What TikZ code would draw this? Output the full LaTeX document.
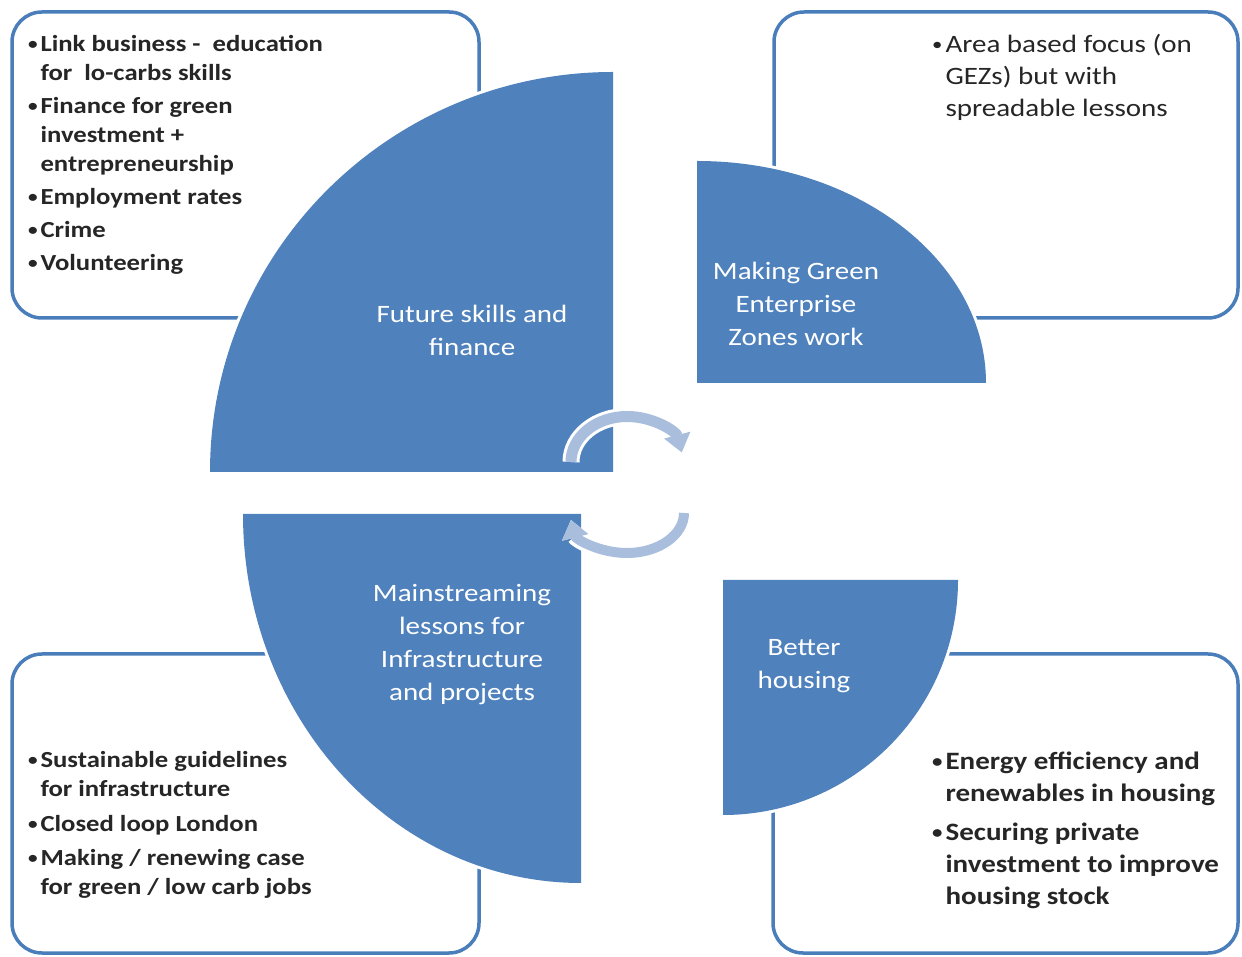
\documentclass[tikz,border=0pt]{standalone}
\usepackage{fontspec}
\setmainfont{Carlito}
\usetikzlibrary{arrows.meta}

\definecolor{sectorblue}{HTML}{4F81BD}
\definecolor{boxblue}{HTML}{4A7EBB}
\definecolor{cycleblue}{HTML}{A9BEDC}
\definecolor{listtext}{HTML}{262626}

% small bullet in a fixed-width slot
\newcommand{\listbullet}{\makebox[0.46em][l]{\raisebox{0.1em}{\scalebox{0.72}{\textbullet}}}}

\tikzset{
  infobox/.style={draw=boxblue, line width=3.5pt, rounded corners=30pt, fill=white},
  sector/.style={fill=sectorblue, preaction={draw=white, line width=6pt}},
  sectorlabel/.style={text=white, align=center, xscale=1.16, font=\fontsize{25}{33}\selectfont},
  bulletlist/.style={text=listtext, anchor=base west, inner sep=0pt, xscale=1.16},
  cyclearrow/.style={draw=cycleblue, -{Triangle[length=18pt, width=26pt]}, preaction={draw=white, line width=17pt}}
}

\begin{document}
\begin{tikzpicture}[x=1pt, y=1pt]
  \useasboundingbox (0,0) rectangle (1242,956);

  % outlined boxes behind the quarters
  \draw[infobox] (12,638) rectangle (479,944);
  \draw[infobox] (774,638) rectangle (1238,944);
  \draw[infobox] (12,3) rectangle (479,302);
  \draw[infobox] (773,3) rectangle (1238,302);

  % quarter discs
  \fill[sector] (613,484) -- (210,484) arc[start angle=180, end angle=90, x radius=403, y radius=400] -- cycle;
  \fill[sector] (697,573) -- (986,573) arc[start angle=0, end angle=90, x radius=289, y radius=222] -- cycle;
  \fill[sector] (581,442) -- (243,442) arc[start angle=180, end angle=270, x radius=338, y radius=369] -- cycle;
  \fill[sector] (723,376) -- (958,376) arc[start angle=0, end angle=-90, x radius=235, y radius=235] -- cycle;

  % cycle arrows in the middle
  \draw[cyclearrow, line width=11pt] (571,494) arc[start angle=180, end angle=12, x radius=56, y radius=45.5];
  \draw[cyclearrow, line width=10pt] (684,443) arc[start angle=0, end angle=-170, x radius=57, y radius=40];

  \node[sectorlabel] (skillslabel) at (472,626) {Future skills and\\finance};
  \node[sectorlabel] (greenlabel) at (796,652) {Making Green\\Enterprise\\Zones work};
  \node[sectorlabel] (mainlabel) at (462,311) {Mainstreaming\\lessons for\\Infrastructure\\and projects};
  \node[sectorlabel] (housinglabel) at (804,290) {Better\\housing};

  \node[bulletlist, font=\bfseries\fontsize{23}{29}\selectfont] (skillslist) at (28,904) {%
    \begin{tabular}[t]{@{}l@{}l@{}}
      \listbullet & Link business -~ education\\
                  & for~ lo-carbs skills\\[4pt]
      \listbullet & Finance for green\\
                  & investment +\\
                  & entrepreneurship\\[4pt]
      \listbullet & Employment rates\\[4pt]
      \listbullet & Crime\\[4pt]
      \listbullet & Volunteering
    \end{tabular}};
  \node[bulletlist, font=\fontsize{25}{32}\selectfont] (greenlist) at (932,903) {%
    \begin{tabular}[t]{@{}l@{}l@{}}
      \listbullet & Area based focus (on\\
                  & GEZs) but with\\
                  & spreadable lessons
    \end{tabular}};
  \node[bulletlist, font=\bfseries\fontsize{23}{29}\selectfont] (mainlist) at (28,188) {%
    \begin{tabular}[t]{@{}l@{}l@{}}
      \listbullet & Sustainable guidelines\\
                  & for infrastructure\\[5.5pt]
      \listbullet & Closed loop London\\[5.5pt]
      \listbullet & Making / renewing case\\
                  & for green / low carb jobs
    \end{tabular}};
  \node[bulletlist, font=\bfseries\fontsize{25}{32}\selectfont] (housinglist) at (932,186) {%
    \begin{tabular}[t]{@{}l@{}l@{}}
      \listbullet & Energy efficiency and\\
                  & renewables in housing\\[7pt]
      \listbullet & Securing private\\
                  & investment to improve\\
                  & housing stock
    \end{tabular}};
\end{tikzpicture}
\end{document}
